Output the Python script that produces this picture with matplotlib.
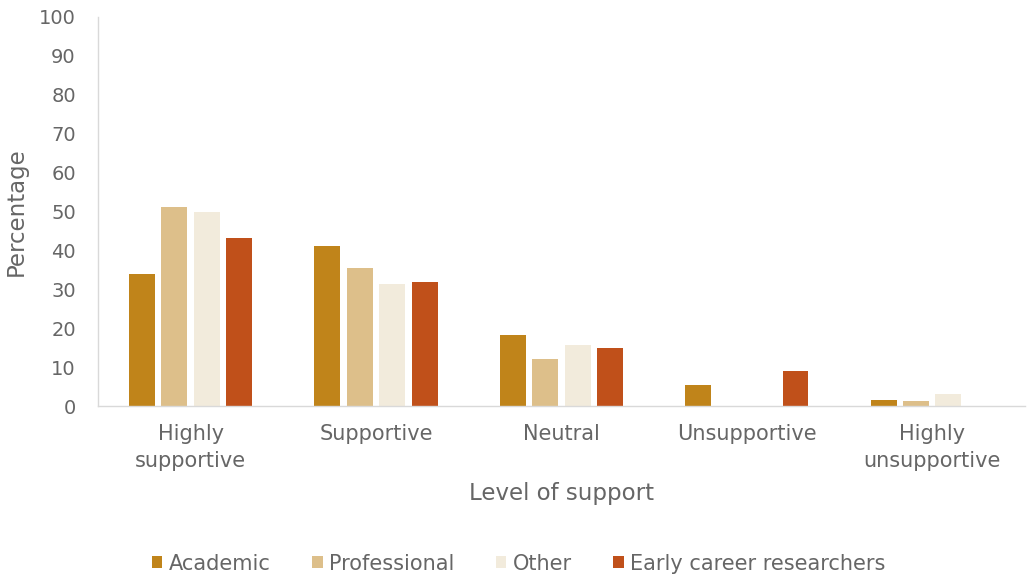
import numpy as np
import matplotlib.pyplot as plt

# Niveaux de soutien et pourcentages par groupe
categories = ["Highly\nsupportive", "Supportive", "Neutral", "Unsupportive", "Highly\nunsupportive"]
series_names = ["Academic", "Professional", "Other", "Early career researchers"]
academic = [34, 41.2, 18.3, 5.3, 1.7]
professional = [51.2, 35.6, 12.1, 0, 1.2]
other = [49.9, 31.4, 15.6, 0, 3.0]
early_career = [43.2, 32, 15, 9, 0]
colors = ["#C0841A", "#DDBF8A", "#F2EBDC", "#C0501A"]

plt.rcParams['font.family'] = ['DejaVu Sans']
txt = "#666666"

fig = plt.figure(figsize=(10.27, 5.81), dpi=100)
ax = fig.add_axes([0.0954, 0.301, 0.9026, 0.670])

x = np.arange(len(categories))
slot = 0.175
width = 0.14
data = [academic, professional, other, early_career]
for i, (vals, name, col) in enumerate(zip(data, series_names, colors)):
    ax.bar(x + (i - 1.5) * slot, vals, width, color=col, label=name)

ax.set_xlim(-0.5, len(categories) - 0.5)
ax.set_ylim(0, 100)
ax.set_yticks(range(0, 101, 10))
ax.set_xticks(x)
ax.set_xticklabels(categories, linespacing=1.4)
ax.tick_params(axis='both', length=0, labelcolor=txt)
ax.tick_params(axis='x', pad=13, labelsize=15)
ax.tick_params(axis='y', pad=16, labelsize=14)

for s in ["top", "right"]:
    ax.spines[s].set_visible(False)
for s in ["left", "bottom"]:
    ax.spines[s].set_color("#D9D9D9")
    ax.spines[s].set_linewidth(1)

ax.set_xlabel("Level of support", fontsize=16.5, color=txt, labelpad=8)
ax.set_ylabel("Percentage", fontsize=16.5, color=txt, labelpad=8)

fig.legend(loc="center", bbox_to_anchor=(0.505, 0.03), ncol=4, frameon=False,
           fontsize=15, labelcolor=txt, handlelength=0.5, handleheight=0.5,
           handletextpad=0.3, columnspacing=2.0)

fig.savefig("out.png", dpi=100)
